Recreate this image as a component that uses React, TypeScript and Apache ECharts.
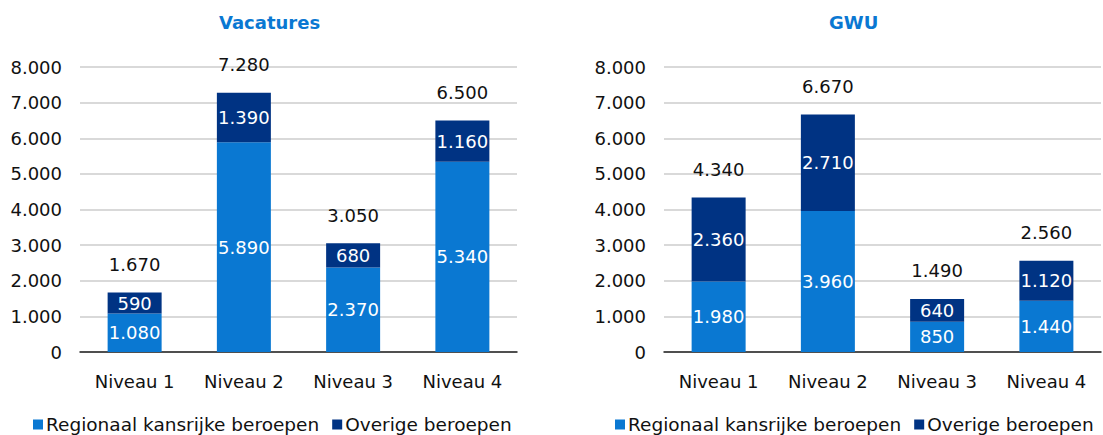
import React, { useEffect, useRef } from "react";
import * as echarts from "echarts";

const categories = ["Niveau 1", "Niveau 2", "Niveau 3", "Niveau 4"];
const vacRegionaal = [1080, 5890, 2370, 5340];
const vacOverig = [590, 1390, 680, 1160];
const gwuRegionaal = [1980, 3960, 850, 1440];
const gwuOverig = [2360, 2710, 640, 1120];
const yTicks = { min: 0, max: 8000, interval: 1000 };
const seriesNames = ["Regionaal kansrijke beroepen", "Overige beroepen"];
const titles = ["Vacatures", "GWU"];

const LIGHT = "#0A78D2";
const DARK = "#003383";
const FONT = "DejaVu Sans";
const TXT = "#111111";

const fmt = (v: number) => v.toString().replace(/\B(?=(\d{3})+(?!\d))/g, ".");

export default function App() {
  const ref = useRef<HTMLDivElement>(null);
  useEffect(() => {
    if (!ref.current) return;
    const chart = echarts.init(ref.current, null, { renderer: "svg" });
    const grids = [
      { left: 80, right: 586, top: 67, bottom: 83 },
      { left: 664, right: 2, top: 67, bottom: 83 },
    ];
    const panels = [
      [vacRegionaal, vacOverig],
      [gwuRegionaal, gwuOverig],
    ];
    const inner = {
      show: true,
      position: "inside",
      color: "#fff",
      fontSize: 18,
      fontFamily: FONT,
      formatter: (d: any) => fmt(d.value),
    };
    const series: any[] = [];
    panels.forEach((p, gi) => {
      const [reg, ov] = p;
      const totals = reg.map((v, i) => v + ov[i]);
      series.push({
        name: seriesNames[0],
        type: "bar",
        stack: "s" + gi,
        xAxisIndex: gi,
        yAxisIndex: gi,
        barWidth: 54,
        data: reg,
        itemStyle: { color: LIGHT },
        label: inner,
      });
      series.push({
        name: seriesNames[1],
        type: "bar",
        stack: "s" + gi,
        xAxisIndex: gi,
        yAxisIndex: gi,
        barWidth: 54,
        data: ov,
        itemStyle: { color: DARK },
        label: inner,
      });
      series.push({
        name: "Totaal" + gi,
        type: "scatter",
        xAxisIndex: gi,
        yAxisIndex: gi,
        symbolSize: 0,
        data: totals,
        silent: true,
        itemStyle: { opacity: 1, color: TXT },
        label: {
          show: true,
          position: "top",
          distance: 19,
          color: TXT,
          opacity: 1,
          fontSize: 18,
          fontFamily: FONT,
          formatter: (d: any) => fmt(d.value),
        },
      });
    });
    chart.setOption({
      animation: false,
      textStyle: { fontFamily: FONT },
      title: [
        {
          text: titles[0],
          left: 219,
          top: 13,
          padding: 0,
          textStyle: { color: LIGHT, fontSize: 18, fontWeight: "bold", fontFamily: FONT },
        },
        {
          text: titles[1],
          left: 829,
          top: 13,
          padding: 0,
          textStyle: { color: LIGHT, fontSize: 18, fontWeight: "bold", fontFamily: FONT },
        },
      ],
      legend: [0, 1].map((gi) => ({
        data: seriesNames,
        left: gi === 0 ? 33 : 615,
        top: 415,
        padding: 0,
        itemWidth: 10,
        itemHeight: 10,
        itemGap: 13,
        icon: "rect",
        textStyle: { color: TXT, fontSize: 18.5, fontFamily: FONT, padding: [0, 0, 0, -2] },
      })),
      grid: grids,
      xAxis: [0, 1].map((gi) => ({
        type: "category",
        gridIndex: gi,
        data: categories,
        axisTick: { show: false },
        axisLine: { lineStyle: { color: "#222", width: 1.5 } },
        axisLabel: { color: TXT, fontSize: 18, fontFamily: FONT, margin: 20 },
      })),
      yAxis: [0, 1].map((gi) => ({
        type: "value",
        gridIndex: gi,
        ...yTicks,
        axisLabel: {
          color: TXT,
          fontSize: 18,
          fontFamily: FONT,
          margin: 18,
          formatter: (v: number) => fmt(v),
        },
        splitLine: { lineStyle: { color: "#d9d9d9", width: 2 } },
        axisLine: { show: false },
        axisTick: { show: false },
      })),
      series,
    });
    return () => chart.dispose();
  }, []);
  return (
    <div
      ref={ref}
      style={{ position: "absolute", left: 0, top: 0, width: 1103, height: 435 }}
    />
  );
}
